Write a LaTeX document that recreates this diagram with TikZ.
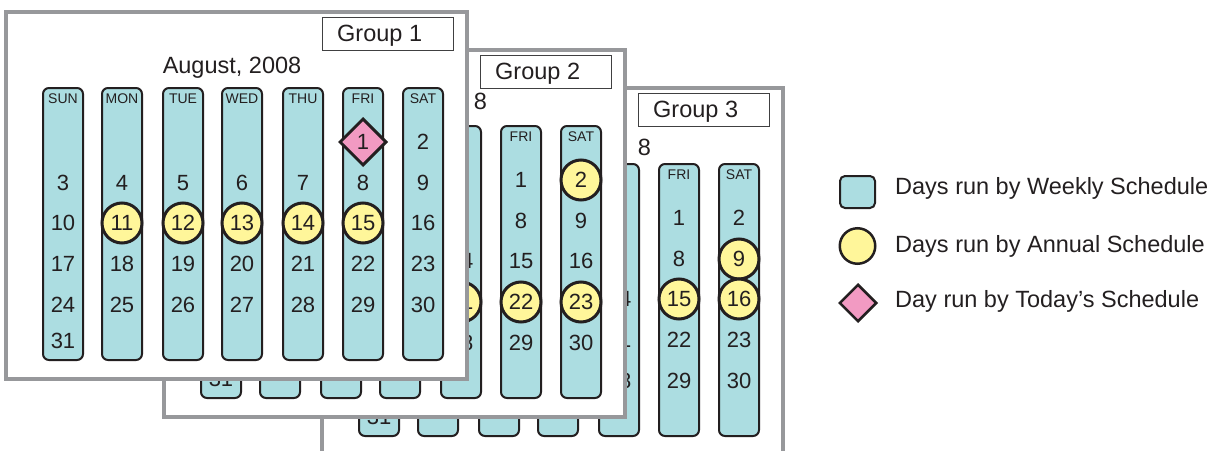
\documentclass[tikz,border=0pt]{standalone}
\usepackage{fontspec}
\setmainfont{Liberation Sans}
\usetikzlibrary{shapes.geometric}
\definecolor{calblue}{HTML}{ACDDE1}
\definecolor{annyellow}{HTML}{FFF69A}
\definecolor{todpink}{HTML}{F29AC2}
\definecolor{panelgray}{HTML}{97989B}
\definecolor{ink}{HTML}{231F20}
\definecolor{boxgray}{HTML}{404041}
\tikzset{
  panel/.style={draw=panelgray, line width=3.5pt, fill=white},
  grouplabel/.style={draw=boxgray, line width=1.4pt, fill=white, inner sep=0pt},
  daycol/.style={draw=ink, line width=2pt, fill=calblue, rounded corners=6pt, inner sep=0pt},
  daytxt/.style={font=\fontsize{14}{16}\selectfont, text=ink, inner sep=0pt, anchor=base},
  numtxt/.style={font=\fontsize{22}{26}\selectfont, text=ink, inner sep=0pt},
  annual/.style={circle, draw=ink, line width=3pt, fill=annyellow, minimum size=40pt, inner sep=0pt},
  today/.style={diamond, aspect=1, draw=ink, line width=3pt, fill=todpink, minimum size=47pt, inner sep=0pt},
  bigtxt/.style={font=\fontsize{23.5}{28}\selectfont, text=ink, inner sep=0pt, anchor=base},
}
\newcommand\CalDayPos[1]{%
  \pgfmathtruncatemacro\calcol{mod(#1+4,7)}%
  \pgfmathtruncatemacro\calrow{div(#1+4,7)}%
  \pgfmathsetmacro\calx{{63,122,183,242,303,363,423}[\calcol]}%
  \pgfmathsetmacro\caly{{142,183,223,264,305,341}[\calrow]}%
}
% #1 tag, #2 label, #3 title text, #4 title x, #5 title baseline y,
% #6 annual days, #7 today days, #8 printed days, #9 printed day-name labels
\newcommand\Calendar[9]{%
  \draw[panel] (6,12) rectangle (467,379);
  \node[grouplabel, minimum width=131pt, minimum height=33pt, anchor=north west] (#1-box) at (322,17) {};
  \node[bigtxt, anchor=base west] (#1-label) at (337,41.6) {#2};
  \node[bigtxt] (#1-title) at (#4,#5) {#3};
  \foreach \x [count=\i] in {63,122,183,242,303,363,423} {
    \node[daycol, minimum width=40pt, minimum height=272pt, anchor=north] (#1-col\i) at (\x,87) {};
  }
  \foreach \n/\x in {#9} {
    \node[daytxt] (#1-\n) at (\x,103) {\n};
  }
  \foreach \d in {#6} {
    \CalDayPos{\d}
    \node[annual] (#1-a\d) at (\calx,\caly) {};
  }
  \foreach \d in {#7} {
    \CalDayPos{\d}
    \node[today] (#1-t\d) at (\calx,\caly) {};
  }
  \foreach \d in {#8} {
    \CalDayPos{\d}
    \node[numtxt] (#1-d\d) at (\calx,\caly) {\d};
  }
}
\begin{document}
\begin{tikzpicture}[x=1pt, y=-1pt]
\useasboundingbox (0,0) rectangle (1221,450);
\clip (0,0) rectangle (1221,450);
\begin{scope}[shift={(316,76)}]
  \Calendar{g3}{Group 3}{8}{328.5}{79.9}{9,15,16}{}%
    {14,21,28,1,8,15,22,29,2,9,16,23,30,31}{FRI/363,SAT/423}
\end{scope}
\begin{scope}[shift={(158,38)}]
  \Calendar{g2}{Group 2}{8}{322.5}{71.9}{2,21,22,23}{}%
    {14,21,28,1,8,15,22,29,2,9,16,23,30,31}{FRI/363,SAT/423}
\end{scope}
\begin{scope}
  \Calendar{g1}{Group 1}{August, 2008}{232}{73.4}{11,12,13,14,15}{1}%
    {1,...,31}{SUN/63,MON/122,TUE/183,WED/242,THU/303,FRI/363,SAT/423}
\end{scope}
% legend
\node[daycol, rounded corners=5pt, minimum width=35pt, minimum height=32pt] (leg-week) at (857.5,192) {};
\node[bigtxt, anchor=base west] (leg-week-txt) at (895,194.4) {Days run by Weekly Schedule};
\node[annual, line width=2.5pt, minimum size=35.5pt] (leg-annual) at (857.5,246) {};
\node[bigtxt, anchor=base west] (leg-annual-txt) at (895,252.4) {Days run by Annual Schedule};
\node[today, line width=2.5pt, minimum size=37.5pt] (leg-today) at (858,303) {};
\node[bigtxt, anchor=base west] (leg-today-txt) at (895,307.4) {Day run by Today’s Schedule};
\end{tikzpicture}
\end{document}
